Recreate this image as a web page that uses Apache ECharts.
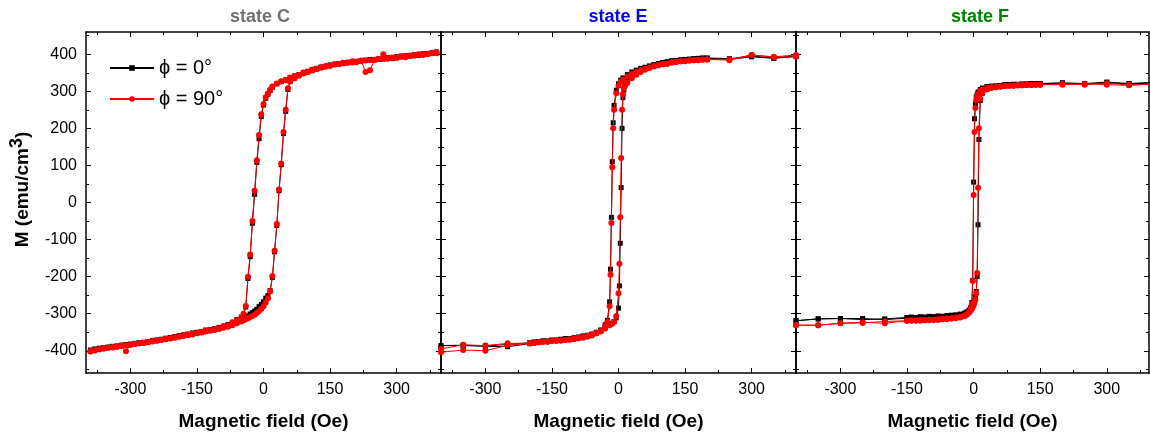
<!DOCTYPE html>
<html>
<head>
<meta charset="utf-8">
<script src="https://cdn.jsdelivr.net/npm/echarts@6/dist/echarts.min.js"></script>
<style>html,body{margin:0;padding:0;background:#fff}#c{width:1150px;height:440px}</style>
</head>
<body>
<div id="c"></div>
<script>
// ---------- DATA ----------
const panelTitles = ['state C', 'state E', 'state F'];
const seriesNames = ['\u03d5 = 0\u00b0', '\u03d5 = 90\u00b0'];
const xMajorTicks = [-300, -150, 0, 150, 300];
const xMinorTicks = [-375, -225, -75, 75, 225, 375];
const yMajorTicks = [-400, -300, -200, -100, 0, 100, 200, 300, 400];
const yMinorTicks = [-450, -350, -250, -150, -50, 50, 150, 250, 350, 450];

// state C
const Hc_down = [390,380,370,360,350,340,330,320,310,300,290,280,270,260,250,240,230,220,210,200,190,180,170,160,150,140,130,120,110,100,90,80,70,60,50,40,30,20,15,10,5,0,-5,-10,-15,-20,-25,-30,-35,-40,-45,-50,-60,-70,-80,-90,-100,-110,-120,-130,-140,-150,-160,-170,-180,-190,-200,-210,-220,-230,-240,-250,-260,-270,-280,-290,-300,-310,-320,-330,-340,-350,-360,-370,-380,-390];
const Mc0_down = [405,403,401,400,397,398,395,394,393,392,389,390,387,386,385,386,383,382,380,380,378,376,375,372,371,367,365,362,358,354,350,345,341,336,331,326,320,311,302,292,281,263,232,172,108,22,-56,-146,-205,-282,-303,-309,-316,-323,-329,-334,-337,-340,-343,-344,-348,-350,-352,-355,-357,-359,-362,-364,-366,-369,-371,-372,-375,-377,-378,-380,-382,-383,-385,-387,-388,-390,-392,-393,-395,-398];
const Mc90_down = [403,404,400,398,399,396,396,392,394,390,391,388,400,387,384,357,352,383,379,381,377,377,373,373,369,368,364,361,359,353,351,344,341,337,330,327,321,313,304,294,284,266,238,182,114,32,-50,-140,-200,-279,-300,-311,-318,-324,-331,-333,-339,-341,-344,-347,-349,-352,-354,-356,-358,-361,-363,-366,-368,-370,-372,-374,-376,-379,-380,-382,-384,-401,-386,-389,-390,-392,-394,-396,-398,-401];
const Hc_up = [-390,-380,-370,-360,-350,-340,-330,-320,-310,-300,-290,-280,-270,-260,-250,-240,-230,-220,-210,-200,-190,-180,-170,-160,-150,-140,-130,-120,-110,-100,-90,-80,-70,-60,-50,-45,-40,-35,-30,-25,-20,-15,-10,-5,0,5,10,15,20,25,30,35,40,45,50,55,60,70,80,90,100,110,120,130,140,150,160,170,180,190,200,210,220,230,240,250,260,270,280,290,300,310,320,330,340,350,360,370,380,390];
const Mc0_up = [-400,-397,-395,-393,-391,-389,-388,-386,-384,-383,-381,-379,-378,-376,-374,-372,-370,-368,-366,-363,-361,-359,-357,-354,-352,-350,-347,-345,-342,-339,-336,-333,-329,-323,-317,-314,-309,-306,-301,-297,-293,-288,-281,-275,-268,-258,-251,-238,-202,-133,-62,32,102,186,246,305,326,336,343,349,353,357,361,365,367,370,373,374,377,378,379,381,383,384,385,386,388,389,391,390,393,395,396,397,399,400,401,402,404,406];
const Mc90_up = [-402,-399,-396,-394,-392,-391,-389,-387,-385,-384,-382,-380,-379,-377,-375,-373,-371,-369,-367,-365,-362,-360,-358,-356,-353,-351,-348,-346,-344,-341,-338,-335,-331,-326,-321,-318,-315,-312,-309,-306,-303,-298,-293,-287,-280,-270,-258,-240,-198,-130,-58,35,105,190,250,308,327,335,342,348,352,356,360,364,366,369,372,374,376,377,378,380,382,383,384,385,387,388,390,389,392,394,395,396,398,399,400,401,403,405];

// state E
const He_down = [400,350,300,250,200,190,180,170,160,150,140,130,120,110,100,90,80,70,60,50,40,30,20,10,5,0,-5,-10,-12,-14,-16,-18,-20,-25,-30,-40,-50,-60,-70,-80,-90,-100,-110,-120,-130,-140,-150,-160,-170,-180,-190,-200,-250,-300,-350,-400];
const Me0_down = [396,390,395,388,390,389,387,388,386,385,384,383,382,378,377,375,372,368,365,362,357,352,345,336,330,320,303,262,215,110,-40,-180,-268,-318,-330,-344,-350,-356,-360,-362,-364,-366,-368,-367,-370,-372,-371,-374,-373,-375,-376,-378,-383,-387,-385,-386];
const Me90_down = [398,393,398,386,386,385,384,384,383,381,381,379,378,374,373,371,368,364,361,357,352,347,340,331,325,315,295,250,200,95,-55,-195,-280,-322,-334,-347,-353,-359,-362,-365,-366,-369,-370,-370,-372,-374,-373,-376,-376,-377,-379,-380,-380,-386,-384,-395];
const He_up = [-400,-350,-300,-250,-200,-190,-180,-170,-160,-150,-140,-130,-120,-110,-100,-90,-80,-70,-60,-50,-40,-30,-20,-15,-10,-5,0,2,4,6,8,10,12,15,20,30,40,50,60,70,80,90,100,110,120,130,140,150,160,170,180,190,200,250,300,350,400];
const Me0_up = [-390,-386,-388,-389,-381,-378,-376,-375,-374,-372,-371,-369,-370,-367,-365,-363,-360,-358,-355,-351,-345,-337,-328,-326,-321,-311,-285,-225,-110,40,200,283,303,318,328,340,350,357,363,368,371,375,378,380,382,383,385,386,387,388,389,390,389,386,393,389,394];
const Me90_up = [-404,-398,-400,-385,-380,-379,-377,-376,-376,-374,-372,-372,-371,-369,-367,-365,-363,-360,-357,-353,-348,-340,-331,-328,-322,-306,-245,-165,-40,120,250,292,308,316,323,335,345,352,358,363,367,370,373,375,378,379,381,382,383,384,385,386,386,384,398,392,393];

// state F
const Hf_down = [400,350,300,250,200,150,140,130,120,110,100,90,80,70,60,50,40,30,20,15,10,8,6,4,2,0,-2,-4,-6,-10,-15,-20,-30,-40,-50,-60,-70,-80,-90,-100,-110,-120,-130,-140,-150,-200,-250,-300,-350,-400];
const Mf0_down = [324,321,325,321,323,321,320,321,319,320,318,319,317,318,316,315,314,313,309,305,298,292,285,266,226,55,-210,-270,-283,-292,-298,-302,-305,-306,-307,-309,-308,-310,-309,-311,-310,-312,-311,-311,-312,-316,-313,-313,-314,-319];
const Mf90_down = [319,317,322,318,320,318,318,317,317,316,316,315,315,314,313,312,311,309,305,301,293,286,276,255,190,20,-212,-274,-286,-296,-302,-306,-310,-312,-313,-315,-314,-317,-316,-318,-317,-319,-318,-319,-319,-321,-325,-326,-331,-331];
const Hf_up = [-400,-350,-300,-250,-200,-150,-140,-130,-120,-110,-100,-90,-80,-70,-60,-50,-40,-30,-20,-15,-10,-6,-4,-2,0,2,4,6,8,10,12,15,20,30,40,50,60,70,80,90,100,110,120,130,140,150,200,250,300,350,400];
const Mf0_up = [-319,-314,-313,-316,-314,-310,-309,-311,-308,-309,-307,-308,-306,-307,-305,-304,-303,-301,-298,-295,-290,-284,-280,-276,-272,-265,-255,-240,-200,-60,170,275,295,306,311,313,315,316,318,317,319,318,320,319,321,320,322,319,323,320,322];
const Mf90_up = [-331,-331,-326,-323,-326,-319,-318,-319,-317,-318,-316,-317,-315,-315,-313,-312,-310,-308,-305,-302,-297,-291,-287,-282,-277,-270,-262,-245,-190,40,200,280,296,305,309,311,312,314,315,315,316,316,317,317,318,318,318,320,318,316,320];

// ---------- BUILD ----------
const FONT = "'Liberation Sans', Arial, sans-serif";
const pairs = (H, M) => H.map((h, i) => [h, M[i]]);
const loops = [
  [pairs(Hc_down, Mc0_down).concat(pairs(Hc_up, Mc0_up)), pairs(Hc_down, Mc90_down).concat(pairs(Hc_up, Mc90_up))],
  [pairs(He_down, Me0_down).concat(pairs(He_up, Me0_up)), pairs(He_down, Me90_down).concat(pairs(He_up, Me90_up))],
  [pairs(Hf_down, Mf0_down).concat(pairs(Hf_up, Mf0_up)), pairs(Hf_down, Mf90_down).concat(pairs(Hf_up, Mf90_up))]
];

const layout = [
  { left: 86, width: 355, xmax: 400, titleX: 260, color: '#707070' },
  { left: 441, width: 355, xmax: 400, titleX: 618, color: '#0000ff' },
  { left: 796, width: 353, xmax: 395, titleX: 980, color: '#008000' }
];
const TOP = 32, HEIGHT = 341;
const axisLine = { show: true, onZero: false, lineStyle: { color: '#000', width: 1.5 } };
const noLine = { show: false, onZero: false };

const grids = [], xAxes = [], yAxes = [], series = [], graphics = [];
layout.forEach((p, i) => {
  grids.push({ left: p.left, top: TOP, width: p.width, height: HEIGHT, containLabel: false });
  const xBase = { gridIndex: i, type: 'value', min: -400, max: p.xmax, splitLine: { show: false } };
  const yBase = { gridIndex: i, type: 'value', min: -460, max: 460, splitLine: { show: false } };
  const tick = (vals, len) => ({ show: true, inside: true, length: len, customValues: vals, lineStyle: { color: '#000', width: 1 } });
  // x bottom major
  xAxes.push(Object.assign({}, xBase, {
    position: 'bottom', axisLine, axisTick: tick(xMajorTicks, 5),
    axisLabel: { show: true, customValues: xMajorTicks, fontSize: 16, color: '#000', fontFamily: FONT, margin: 9 },
    name: 'Magnetic field (Oe)', nameLocation: 'middle', nameGap: 39,
    nameTextStyle: { fontSize: 19, fontWeight: 'bold', color: '#000', fontFamily: FONT }
  }));
  xAxes.push(Object.assign({}, xBase, { position: 'bottom', axisLine: noLine, axisTick: tick(xMinorTicks, 3), axisLabel: { show: false } }));
  xAxes.push(Object.assign({}, xBase, { position: 'top', axisLine, axisTick: tick(xMajorTicks, 5), axisLabel: { show: false } }));
  xAxes.push(Object.assign({}, xBase, { position: 'top', axisLine: noLine, axisTick: tick(xMinorTicks, 3), axisLabel: { show: false } }));
  // y left major
  const yLeft = Object.assign({}, yBase, {
    position: 'left', axisLine, axisTick: tick(yMajorTicks, 5),
    axisLabel: { show: i === 0, customValues: yMajorTicks, fontSize: 16, color: '#000', fontFamily: FONT, margin: 9 }
  });
  if (i === 0) {
    yLeft.name = '{m|M (emu/cm}{s|3}{a|)}';
    yLeft.nameLocation = 'middle';
    yLeft.nameGap = 49;
    yLeft.nameTextStyle = {
      fontFamily: FONT,
      rich: {
        m: { fontSize: 19, fontWeight: 'bold', color: '#000', fontFamily: FONT, padding: [0, 0, 0, 26] },
        a: { fontSize: 19, fontWeight: 'bold', color: '#000', fontFamily: FONT },
        s: { fontSize: 18, fontWeight: 'bold', color: '#000', fontFamily: FONT, padding: [0, 0, 11, 0] }
      }
    };
  }
  yAxes.push(yLeft);
  yAxes.push(Object.assign({}, yBase, { position: 'left', axisLine: noLine, axisTick: tick(yMinorTicks, 3), axisLabel: { show: false } }));
  yAxes.push(Object.assign({}, yBase, { position: 'right', axisLine, axisTick: tick(yMajorTicks, 5), axisLabel: { show: false } }));
  yAxes.push(Object.assign({}, yBase, { position: 'right', axisLine: noLine, axisTick: tick(yMinorTicks, 3), axisLabel: { show: false } }));

  series.push({
    name: seriesNames[0], type: 'line', xAxisIndex: 4 * i, yAxisIndex: 4 * i,
    data: loops[i][0], symbol: 'rect', symbolSize: 5, showSymbol: true,
    lineStyle: { color: '#000', width: 1 }, itemStyle: { color: '#000' }, z: 2
  });
  series.push({
    name: seriesNames[1], type: 'line', xAxisIndex: 4 * i, yAxisIndex: 4 * i,
    data: loops[i][1], symbol: 'circle', symbolSize: 6, showSymbol: true,
    lineStyle: { color: '#ff0000', width: 1 }, itemStyle: { color: '#ff0000' }, z: 3
  });

  graphics.push({
    type: 'text', x: p.titleX, y: 17,
    style: { text: panelTitles[i], textAlign: 'center', textVerticalAlign: 'middle',
      font: "bold 18px 'Liberation Sans', Arial, sans-serif", fill: p.color }
  });
});

const chart = echarts.init(document.getElementById('c'), null, { renderer: 'canvas' });
chart.setOption({
  animation: false,
  backgroundColor: '#fff',
  grid: grids,
  xAxis: xAxes,
  yAxis: yAxes,
  series: series,
  graphic: graphics,
  legend: {
    data: seriesNames, orient: 'vertical', left: 104, top: 53,
    itemWidth: 44, itemHeight: 7, itemGap: 11,
    textStyle: { fontSize: 20, color: '#000', fontFamily: FONT }
  }
});
</script>
</body>
</html>
